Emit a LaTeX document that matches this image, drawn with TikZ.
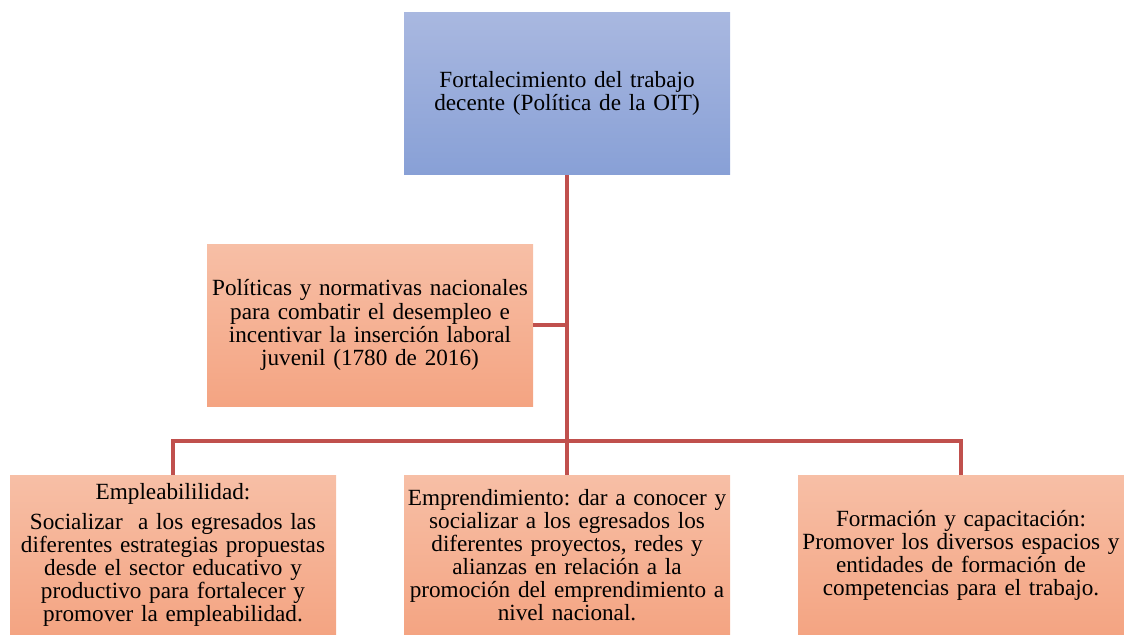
\documentclass[tikz,border=0pt]{standalone}
\usepackage{fontspec}
\setmainfont{Liberation Serif}
\usetikzlibrary{positioning}
\lineskiplimit=-5pt
\frenchspacing
\newcommand\boxfont{\fontsize{17.4pt}{17.3pt}\selectfont}
\definecolor{linkred}{HTML}{C0504D}
\definecolor{bluetop}{HTML}{A9B8E0}
\definecolor{bluebot}{HTML}{88A0D6}
\definecolor{peachtop}{HTML}{F7BFA6}
\definecolor{peachbot}{HTML}{F4A482}
\tikzset{
    %Define style for the goal box
    goal/.style={
           rectangle,
           top color=bluetop, bottom color=bluebot,
           minimum width=244.5pt,
           minimum height=122pt,
           text width=244pt,
           font=\boxfont,
           align=center,
           inner sep=0pt},
    %Define style for the other boxes
    point/.style={
           goal,
           top color=peachtop, bottom color=peachbot,
           minimum height=120pt},
    % Define connector style
    link/.style={
           draw=linkred,
           line width=2.3pt},
}
\begin{document}
\begin{tikzpicture}[x=0.75pt,y=-0.75pt]
  \useasboundingbox (0,0) rectangle (1124,635);
  \node[goal] (oit) at (567,93.5) {Fortalecimiento del trabajo\\decente (Política de la OIT)};
  \node[point, minimum height=121.5pt] (pol) at (370,325)
        {Políticas y normativas nacionales\\para combatir el desempleo e\\incentivar la inserción laboral\\juvenil (1780 de 2016)};
  \node[point] (emp) at (173,555)
        {Empleabililidad:\\[5pt]Socializar\ \ a los egresados las\\diferentes estrategias propuestas\\desde el sector educativo y\\productivo para fortalecer y\\promover la empleabilidad.};
  \node[point] (empr) at (567,555)
        {Emprendimiento: dar a conocer y\\socializar a los egresados los\\diferentes proyectos, redes y\\alianzas en relación a la\\promoción del emprendimiento a\\nivel nacional.};
  \node[point] (form) at (961,555)
        {Formación y capacitación:\\Promover los diversos espacios y\\entidades de formación de\\competencias para el trabajo.};
  \coordinate (hub) at (567,441);
  \draw[link] (oit.south) -- (hub);
  \draw[link] (pol.east) -- (pol.east -| oit.south);
  \draw[link] (emp.north) |- (hub) -| (form.north);
  \draw[link] (hub) -- (empr.north);
\end{tikzpicture}
\end{document}
